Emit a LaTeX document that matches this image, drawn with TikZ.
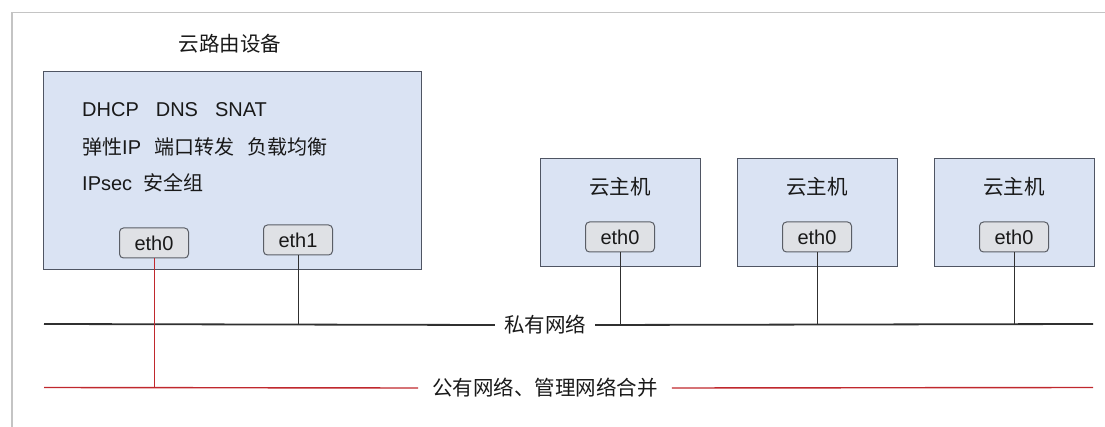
\documentclass[tikz,border=0pt]{standalone}
\usepackage{fontspec}
\setmainfont{Liberation Sans}
\newfontfamily\cjk{Noto Sans CJK SC}
\definecolor{boxfill}{HTML}{DAE3F3}
\definecolor{boxedge}{HTML}{4F5563}
\definecolor{portfill}{HTML}{DFE1E5}
\definecolor{portedge}{HTML}{5A5E66}
\definecolor{netblack}{HTML}{303030}
\definecolor{netred}{HTML}{C0282D}
\definecolor{framegray}{HTML}{C4C4C4}
\begin{document}
\begin{tikzpicture}[x=1pt,y=-1pt,
  txt/.style={font=\fontsize{20}{24}\selectfont, inner sep=0pt, text=black!90},
  ctxt/.style={font=\fontsize{20.5}{24}\selectfont\cjk, inner sep=0pt, text=black!90},
  routerbox/.style={draw=boxedge, fill=boxfill, line width=1pt, minimum width=378pt, minimum height=198pt, inner sep=0pt},
  hostbox/.style={draw=boxedge, fill=boxfill, line width=1pt, minimum width=160pt, minimum height=108pt, inner sep=0pt},
  port/.style={draw=portedge, fill=portfill, rounded corners=4pt, line width=1pt, minimum width=69pt, minimum height=30pt, inner sep=0pt, font=\fontsize{20}{24}\selectfont, text=black!90},
  netlbl/.style={font=\fontsize{20.5}{24}\selectfont\cjk, inner ysep=0pt, text=black!90},
  net/.style={line width=1.8pt, draw=netblack},
  pub/.style={line width=1.4pt, draw=netred},
  link/.style={line width=1pt, draw=netblack},
  redlink/.style={line width=1pt, draw=netred},
  frameline/.style={line width=1.5pt, draw=framegray}
]
\useasboundingbox (0,0) rectangle (1105,427);
\draw[frameline] (12,427) -- (12,12.5) -- (1105,12.5);

% router
\node[ctxt] (title) at (230,44) {云路由设备};
\node[routerbox] (router) at (232.5,170.5) {};
\node[txt, anchor=west] (l1) at (82,110) {DHCP\hspace{17pt}DNS\hspace{17pt}SNAT};
\node[txt, anchor=west] (l2) at (82,147) {{\cjk 弹性}IP\hspace{13pt}{\cjk 端口转发}\hspace{13pt}{\cjk 负载均衡}};
\node[txt, anchor=west] (l3) at (82,183) {IPsec\hspace{11pt}{\cjk 安全组}};
\node[port] (r0) at (154,243) {eth0};
\node[port] (r1) at (298,240) {eth1};

% hosts
\foreach \i/\x in {1/620,2/817,3/1014} {
  \node[hostbox] (h\i) at (\x,213) {};
  \node[ctxt] (ht\i) at (\x,187) {云主机};
  \node[port] (p\i) at (\x,237) {eth0};
}

% networks
\coordinate (privL) at (44,324);
\coordinate (privR) at (1093,324);
\node[netlbl, inner xsep=9pt] (privLabel) at (545,325) {私有网络};
\draw[net] (privL) -- (privLabel.west);
\draw[net] (privLabel.east) -- (privR);

\coordinate (pubL) at (44,387.5);
\coordinate (pubR) at (1093,387.5);
\node[netlbl, inner xsep=14pt] (pubLabel) at (545,388) {公有网络、管理网络合并};
\draw[pub] (pubL) -- (pubLabel.west);
\draw[pub] (pubLabel.east) -- (pubR);

% links
\draw[redlink] (r0.south) -- (r0.south |- pubL);
\draw[link] (r1.south) -- (r1.south |- privL);
\foreach \i in {1,2,3} {
  \draw[link] (p\i.south) -- (p\i.south |- privL);
}
\end{tikzpicture}
\end{document}
